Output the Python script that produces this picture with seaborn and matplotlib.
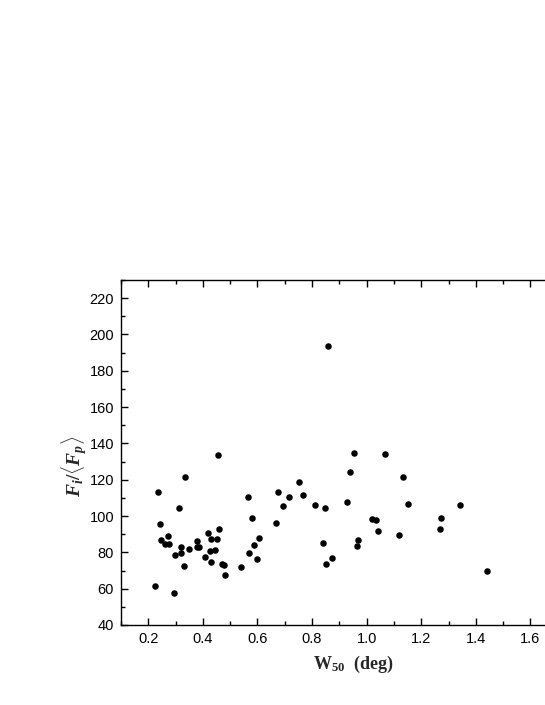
import numpy as np
import pandas as pd
import matplotlib
matplotlib.use("Agg")
import matplotlib.pyplot as plt
from matplotlib.ticker import MultipleLocator
import seaborn as sns

# ==========================
# Data
# ==========================

w50 = [0.225, 0.235, 0.243, 0.248, 0.261, 0.275, 0.274, 0.297, 0.294, 0.313,
       0.318, 0.320, 0.336, 0.329, 0.349, 0.377, 0.379, 0.386, 0.406, 0.419,
       0.425, 0.430, 0.430, 0.446, 0.450, 0.460, 0.470, 0.478, 0.482, 0.540,
       0.564, 0.569, 0.579, 0.588, 0.598, 0.607, 0.668, 0.675, 0.692, 0.714,
       0.751, 0.768, 0.812, 0.839, 0.848, 0.852, 0.873, 0.928, 0.940, 0.963,
       0.968, 1.020, 1.036, 1.040, 1.117, 1.135, 1.150, 1.267, 1.274, 1.341,
       1.442, 0.457, 0.860, 0.955, 1.067]

flux_ratio = [61.7, 113.4, 95.5, 86.9, 84.5, 84.5, 88.9, 78.3, 57.5, 104.2,
              79.9, 82.9, 121.3, 72.7, 81.7, 86.2, 82.9, 83.2, 77.3, 90.8,
              80.5, 87.6, 74.6, 81.4, 87.6, 92.6, 73.7, 72.9, 67.4, 71.8,
              110.3, 79.4, 99.2, 84.1, 76.6, 88.0, 95.9, 113.4, 105.5, 110.3,
              118.5, 111.4, 106.0, 85.2, 104.2, 73.8, 77.0, 107.9, 124.2, 83.6,
              86.7, 98.3, 97.6, 91.7, 89.5, 121.5, 106.4, 92.8, 98.7, 106.0,
              69.6, 133.4, 193.9, 135.0, 133.9]

x_ticks = [0.2, 0.4, 0.6, 0.8, 1.0, 1.2, 1.4, 1.6]
y_ticks = [40, 60, 80, 100, 120, 140, 160, 180, 200, 220]

df = pd.DataFrame({"W50": w50, "ratio": flux_ratio})

# ==========================
# Style
# ==========================

sns.set_style("ticks")
plt.rcParams["font.family"] = ["Liberation Sans", "DejaVu Sans"]
plt.rcParams["mathtext.fontset"] = "custom"
plt.rcParams["mathtext.rm"] = "Liberation Serif:bold"
plt.rcParams["mathtext.it"] = "Liberation Serif:bold:italic"
plt.rcParams["mathtext.bf"] = "Liberation Serif:bold"

fig = plt.figure(figsize=(5.45, 7.05), dpi=100)
# axes run past the right edge, as in the cropped original
ax = fig.add_axes([121 / 545, 80 / 705, 464 / 545, 345 / 705])

sns.scatterplot(
    data=df,
    x="W50",
    y="ratio",
    color="black",
    s=22,
    edgecolor="black",
    linewidth=0,
    ax=ax
)

ax.set_xlim(0.1, 1.8)
ax.set_ylim(40, 230)
ax.set_xticks(x_ticks)
ax.set_yticks(y_ticks)
ax.xaxis.set_minor_locator(MultipleLocator(0.1))
ax.yaxis.set_minor_locator(MultipleLocator(10))
ax.set_xticklabels([f"{t:.1f}" for t in x_ticks])

ax.tick_params(which="both", direction="in", top=True, right=False,
               width=1, colors="black", labelsize=10.5, pad=5)
ax.tick_params(which="major", length=5)
ax.tick_params(which="minor", length=3)

for side in ["left", "bottom", "top", "right"]:
    ax.spines[side].set_visible(True)
    ax.spines[side].set_linewidth(1)
    ax.spines[side].set_color("black")

ax.set_xlabel(r"$\mathbf{W}_{\mathbf{50}}$  (deg)", family="Liberation Serif",
              fontweight="bold", fontsize=13, labelpad=6)
ax.set_ylabel(r"$F_i/\langle F_p\rangle$", fontsize=14)
ax.yaxis.set_label_coords(-0.068, 0.46)

plt.savefig("out.png", dpi=100)
